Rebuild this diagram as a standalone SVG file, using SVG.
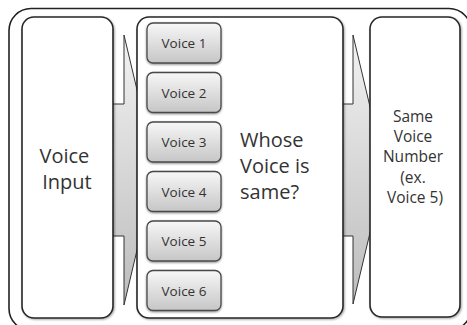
<svg xmlns="http://www.w3.org/2000/svg" width="467" height="325" viewBox="0 0 467 325">
  <defs>
    <linearGradient id="arrowFill" x1="0" y1="0" x2="0" y2="1">
      <stop offset="0" stop-color="#f2f2f2"/>
      <stop offset="1" stop-color="#bcbcbc"/>
    </linearGradient>
    <linearGradient id="btnFill" x1="0" y1="0" x2="0" y2="1">
      <stop offset="0" stop-color="#f7f7f7"/>
      <stop offset="1" stop-color="#c6c6c6"/>
    </linearGradient>
    <filter id="btnShadow" x="-10%" y="-10%" width="120%" height="130%">
      <feGaussianBlur in="SourceAlpha" stdDeviation="1"/>
      <feOffset dy="1.2"/>
      <feComponentTransfer><feFuncA type="linear" slope="0.45"/></feComponentTransfer>
      <feMerge><feMergeNode/><feMergeNode in="SourceGraphic"/></feMerge>
    </filter>
    <filter id="boxShadow" x="-5%" y="-5%" width="110%" height="110%">
      <feGaussianBlur in="SourceAlpha" stdDeviation="0.8"/>
      <feOffset dx="0.5" dy="0.8"/>
      <feComponentTransfer><feFuncA type="linear" slope="0.35"/></feComponentTransfer>
      <feMerge><feMergeNode/><feMergeNode in="SourceGraphic"/></feMerge>
    </filter>
  </defs>
  <style>
    .frame { fill: #ffffff; stroke: #222222; stroke-width: 1.6; }
    .box { fill: #ffffff; stroke: #262626; stroke-width: 1.6; }
    .arrow { fill: url(#arrowFill); stroke: #333333; stroke-width: 1; stroke-linejoin: miter; }
    .btn { fill: url(#btnFill); stroke: #4a4a4a; stroke-width: 1.3; }
    .btnText { font-family: "Open Sans", "Noto Sans", sans-serif; font-size: 13.5px; fill: #333333; text-anchor: middle; }
    .label { font-family: "Open Sans", "Noto Sans", sans-serif; fill: #333333; }
  </style>

  <rect width="467" height="325" fill="#ffffff"/>

  <!-- outer frame -->
  <rect class="frame" x="9" y="8.5" width="462" height="322" rx="22"/>

  <!-- connectors: block arrows between the panels -->
  <g id="connectors">
    <path class="arrow" d="M96,104 L124,104 L124,35 L156,170 L124,305 L124,236 L96,236 Z"/>
    <path class="arrow" d="M330,104 L353,104 L353,35 L385,170 L353,304 L353,236 L330,236 Z"/>
  </g>

  <g id="voice-input">
    <rect class="box" x="22" y="17" width="91" height="301" rx="12" filter="url(#boxShadow)"/>
    <text class="label" font-size="20" text-anchor="middle">
      <tspan x="67" y="163">Voice</tspan>
      <tspan x="67" y="189">Input</tspan>
    </text>
  </g>

  <g id="compare">
    <rect class="box" x="137" y="17" width="206" height="301" rx="12" filter="url(#boxShadow)"/>
    <text class="label" font-size="20">
      <tspan x="240" y="147">Whose</tspan>
      <tspan x="240" y="173">Voice is</tspan>
      <tspan x="240" y="199">same?</tspan>
    </text>
  </g>

  <g id="voice-1"><rect class="btn" x="147" y="23" width="74" height="40" rx="6" filter="url(#btnShadow)"/><text class="btnText" x="184" y="48">Voice 1</text></g>
  <g id="voice-2"><rect class="btn" x="147" y="72.5" width="74" height="40" rx="6" filter="url(#btnShadow)"/><text class="btnText" x="184" y="97.5">Voice 2</text></g>
  <g id="voice-3"><rect class="btn" x="147" y="122" width="74" height="40" rx="6" filter="url(#btnShadow)"/><text class="btnText" x="184" y="147">Voice 3</text></g>
  <g id="voice-4"><rect class="btn" x="147" y="171.5" width="74" height="40" rx="6" filter="url(#btnShadow)"/><text class="btnText" x="184" y="196.5">Voice 4</text></g>
  <g id="voice-5"><rect class="btn" x="147" y="221" width="74" height="40" rx="6" filter="url(#btnShadow)"/><text class="btnText" x="184" y="246">Voice 5</text></g>
  <g id="voice-6"><rect class="btn" x="147" y="270.5" width="74" height="40" rx="6" filter="url(#btnShadow)"/><text class="btnText" x="184" y="295.5">Voice 6</text></g>

  <g id="result">
    <rect class="box" x="370" y="17" width="90" height="300" rx="12" filter="url(#boxShadow)"/>
    <text class="label" font-size="15.5" text-anchor="middle">
      <tspan x="415" y="122">Same</tspan>
      <tspan x="415" y="142">Voice</tspan>
      <tspan x="415" y="162">Number</tspan>
      <tspan x="415" y="183">(ex.</tspan>
      <tspan x="415" y="203">Voice 5)</tspan>
    </text>
  </g>
</svg>
